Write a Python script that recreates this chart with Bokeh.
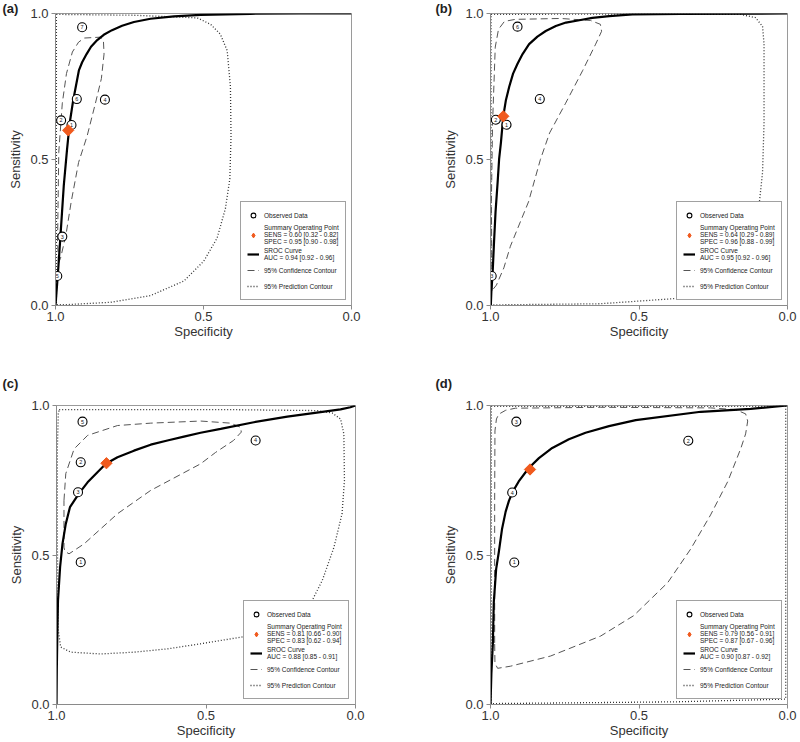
from bokeh.plotting import figure
from bokeh.models import (Range1d, FixedTicker, Legend, LegendItem,
                          ColumnDataSource, PrintfTickFormatter)
from bokeh.layouts import column, row
from bokeh.embed import file_html
from bokeh.resources import INLINE
from bokeh.core.properties import value
import math

FONT = "Liberation Sans"

# ---------------- Panel (a) ----------------
a_study = ["1", "2", "3", "4", "5", "6", "7"]
a_spec = [0.946, 0.981, 0.977, 0.833, 0.994, 0.928, 0.910]
a_sens = [0.618, 0.634, 0.236, 0.705, 0.101, 0.707, 0.953]
a_sum = (0.957, 0.600)
a_sroc_spec = [1.0, 0.992, 0.983, 0.972, 0.961, 0.952, 0.940, 0.921, 0.910, 0.895, 0.880, 0.859, 0.837, 0.809,
               0.775, 0.735, 0.679, 0.600, 0.510, 0.341, 0.172, 0.0]
a_sroc_sens = [0.0, 0.107, 0.242, 0.411, 0.535, 0.625, 0.704, 0.805, 0.833, 0.861, 0.886, 0.909, 0.927, 0.943,
               0.958, 0.971, 0.982, 0.990, 0.995, 0.999, 1.0, 1.0]
a_conf_spec = [0.990, 0.993, 0.989, 0.977, 0.963, 0.943, 0.922, 0.902, 0.848, 0.838, 0.836, 0.845, 0.865, 0.893, 0.922, 0.947, 0.965, 0.983]
a_conf_sens = [0.145, 0.220, 0.524, 0.693, 0.794, 0.868, 0.902, 0.916, 0.919, 0.905, 0.861, 0.777, 0.693, 0.581, 0.490, 0.355, 0.240, 0.162]
a_pred_spec = [0.997, 0.735, 0.521, 0.476, 0.443, 0.420, 0.409, 0.407, 0.411, 0.426, 0.454, 0.499, 0.566, 0.679, 0.814, 0.961, 0.997]
a_pred_sens = [0.997, 0.994, 0.985, 0.963, 0.929, 0.873, 0.749, 0.580, 0.434, 0.332, 0.231, 0.152, 0.084, 0.034, 0.011, 0.003, 0.003]
a_legend = ["Summary Operating Point\nSENS = 0.60 [0.32 - 0.82]\nSPEC = 0.95 [0.90 - 0.98]",
            "SROC Curve\nAUC = 0.94 [0.92 - 0.96]"]

# ---------------- Panel (b) ----------------
b_study = ["1", "2", "3", "4", "6"]
b_spec = [0.946, 0.982, 0.996, 0.834, 0.909]
b_sens = [0.619, 0.636, 0.101, 0.707, 0.955]
b_sum = (0.957, 0.648)
b_sroc_spec = [0.999, 0.997, 0.993, 0.988, 0.983, 0.976, 0.971, 0.965, 0.957, 0.948, 0.937, 0.924, 0.909, 0.892,
               0.870, 0.842, 0.814, 0.780, 0.746, 0.701, 0.657, 0.600, 0.522, 0.360, 0.0]
b_sroc_sens = [0.0, 0.050, 0.108, 0.220, 0.321, 0.422, 0.501, 0.557, 0.648, 0.704, 0.749, 0.794, 0.828, 0.861,
               0.895, 0.921, 0.940, 0.957, 0.969, 0.977, 0.985, 0.991, 0.997, 0.999, 1.0]
b_conf_spec = [0.995, 0.997, 0.993, 0.984, 0.973, 0.953, 0.916, 0.764, 0.663, 0.630, 0.626, 0.646, 0.690, 0.747, 0.801, 0.832, 0.872, 0.933, 0.955, 0.980]
b_conf_sens = [0.051, 0.355, 0.625, 0.885, 0.946, 0.973, 0.980, 0.983, 0.976, 0.963, 0.939, 0.895, 0.804, 0.693, 0.591, 0.500, 0.355, 0.203, 0.129, 0.070]
b_pred_spec = [0.998, 0.630, 0.158, 0.108, 0.084, 0.079, 0.079, 0.084, 0.098, 0.125, 0.175, 0.259, 0.360, 0.630, 0.998]
b_pred_sens = [0.997, 0.998, 0.997, 0.986, 0.956, 0.895, 0.625, 0.456, 0.321, 0.186, 0.084, 0.040, 0.025, 0.006, 0.002]
b_legend = ["Summary Operating Point\nSENS = 0.64 [0.29 - 0.89]\nSPEC = 0.96 [0.88 - 0.99]",
            "SROC Curve\nAUC = 0.95 [0.92 - 0.96]"]

# ---------------- Panel (c) ----------------
c_study = ["1", "2", "3", "4", "5"]
c_spec = [0.919, 0.919, 0.928, 0.334, 0.913]
c_sens = [0.476, 0.810, 0.710, 0.883, 0.946]
c_sum = (0.833, 0.807)
c_sroc_spec = [1.0, 0.999, 0.997, 0.995, 0.988, 0.980, 0.969, 0.955, 0.924, 0.896, 0.863, 0.835, 0.796, 0.741,
               0.685, 0.629, 0.574, 0.518, 0.451, 0.340, 0.228, 0.117, 0.050, 0.017, 0.0]
c_sroc_sens = [0.0, 0.114, 0.247, 0.348, 0.459, 0.537, 0.604, 0.660, 0.707, 0.743, 0.777, 0.805, 0.827, 0.849,
               0.869, 0.883, 0.896, 0.909, 0.922, 0.944, 0.963, 0.978, 0.987, 0.994, 1.0]
c_conf_spec = [0.975, 0.969, 0.941, 0.896, 0.796, 0.685, 0.518, 0.418, 0.384, 0.382, 0.408, 0.468, 0.518, 0.685, 0.796, 0.908, 0.958, 0.972, 0.975]
c_conf_sens = [0.682, 0.772, 0.855, 0.900, 0.933, 0.941, 0.948, 0.941, 0.927, 0.911, 0.883, 0.843, 0.805, 0.716, 0.638, 0.537, 0.504, 0.512, 0.526]
c_pred_spec = [0.991, 0.741, 0.406, 0.128, 0.078, 0.050, 0.039, 0.037, 0.045, 0.072, 0.111, 0.145, 0.206, 0.273, 0.373, 0.518, 0.629, 0.741, 0.852, 0.952, 0.986, 0.994, 0.997, 0.997, 0.994]
c_pred_sens = [0.986, 0.986, 0.986, 0.983, 0.975, 0.955, 0.905, 0.749, 0.638, 0.526, 0.415, 0.348, 0.281, 0.253, 0.227, 0.203, 0.186, 0.175, 0.169, 0.175, 0.192, 0.247, 0.526, 0.861, 0.972]
c_legend = ["Summary Operating Point\nSENS = 0.81 [0.66 - 0.90]\nSPEC = 0.83 [0.62 - 0.94]",
            "SROC Curve\nAUC = 0.88 [0.85 - 0.91]"]

# ---------------- Panel (d) ----------------
d_study = ["1", "2", "3", "4"]
d_spec = [0.920, 0.334, 0.913, 0.927]
d_sens = [0.475, 0.882, 0.946, 0.709]
d_sum = (0.867, 0.786)
d_sroc_spec = [1.0, 0.997, 0.992, 0.989, 0.981, 0.972, 0.961, 0.949, 0.938, 0.925, 0.905, 0.871, 0.837, 0.792,
               0.736, 0.680, 0.601, 0.511, 0.292, 0.124, 0.0]
d_sroc_sens = [0.0, 0.105, 0.206, 0.341, 0.453, 0.510, 0.588, 0.645, 0.681, 0.712, 0.746, 0.791, 0.824, 0.858,
               0.887, 0.909, 0.931, 0.951, 0.979, 0.989, 1.0]
d_conf_spec = [0.986, 0.986, 0.985, 0.980, 0.972, 0.949, 0.916, 0.629, 0.259, 0.174, 0.141, 0.134, 0.141, 0.157, 0.201, 0.259, 0.326, 0.403, 0.518, 0.629, 0.798, 0.933, 0.976, 0.985]
d_conf_sens = [0.206, 0.678, 0.915, 0.955, 0.971, 0.984, 0.991, 0.994, 0.992, 0.986, 0.972, 0.948, 0.905, 0.857, 0.746, 0.634, 0.520, 0.408, 0.297, 0.229, 0.162, 0.128, 0.121, 0.138]
d_pred_spec = [0.997, 0.997, 0.006, 0.006, 0.371, 0.997]
d_pred_sens = [0.003, 0.997, 0.997, 0.018, 0.009, 0.003]
d_legend = ["Summary Operating Point\nSENS = 0.79 [0.56 - 0.91]\nSPEC = 0.87 [0.67 - 0.96]",
            "SROC Curve\nAUC = 0.90 [0.87 - 0.92]"]

TICKS = [0.0, 0.5, 1.0]
DIAMOND = "#F05A1E"


def closed(v):
    return list(v) + [v[0]]


def make_panel(tag, study, spec, sens, summ, sroc_x, sroc_y, conf_x, conf_y,
               pred_x, pred_y, leg, width, height, bl, br, bt, bb,
               tag_offset, tag_standoff, tag_valign, leg_loc):
    p = figure(width=width, height=height, x_range=Range1d(1, 0), y_range=Range1d(0, 1),
               output_backend="svg", toolbar_location=None,
               min_border_left=bl, min_border_right=br, min_border_top=bt, min_border_bottom=bb)
    p.title.text = tag
    p.title.align = "left"
    p.title.offset = tag_offset
    p.title.standoff = tag_standoff
    p.title.vertical_align = tag_valign
    p.title.text_font = FONT
    p.title.text_font_size = "13px"
    p.title.text_font_style = "bold"
    p.title.text_color = "#222222"

    p.grid.visible = False
    p.outline_line_color = "#9a9a9a"
    p.background_fill_color = "white"
    p.border_fill_color = "white"
    for ax in (p.xaxis[0], p.yaxis[0]):
        ax.ticker = FixedTicker(ticks=TICKS)
        ax.formatter = PrintfTickFormatter(format="%.1f")
        ax.major_tick_in = 0
        ax.major_tick_out = 4
        ax.minor_tick_line_color = None
        ax.axis_line_color = "#8a8a8a"
        ax.major_tick_line_color = "#8a8a8a"
        ax.major_label_text_font = FONT
        ax.major_label_text_font_size = "13px"
        ax.major_label_text_color = "#333333"
        ax.axis_label_text_font = FONT
        ax.axis_label_text_font_size = "13px"
        ax.axis_label_text_font_style = "normal"
        ax.axis_label_text_color = "#333333"
        ax.major_label_standoff = 3
    p.xaxis.axis_label = "Specificity"
    p.yaxis.axis_label = "Sensitivity"
    p.xaxis.major_label_standoff = 2
    p.xaxis.axis_label_standoff = 0
    p.yaxis.axis_label_standoff = 4

    r_pred = p.line(closed(pred_x), closed(pred_y), line_color="#333333", line_width=1.3,
                    line_dash="1 2")
    r_conf = p.line(closed(conf_x), closed(conf_y), line_color="#555555", line_width=1,
                    line_dash="7 4")
    r_sroc = p.line(sroc_x, sroc_y, line_color="black", line_width=2.2)
    src = ColumnDataSource(dict(x=spec, y=sens, t=study))
    r_obs = p.scatter("x", "y", source=src, marker="circle", size=9, fill_color="white",
                      line_color="black", line_width=1.1)
    p.text("x", "y", text="t", source=src, text_font=value(FONT), text_font_size="5.5px",
           text_align="center", text_baseline="middle", text_color="#222222")
    # legend symbol (a diamond) at the summary point, covered by the main symbol
    r_sum_leg = p.scatter([summ[0]], [summ[1]], marker="diamond", size=8,
                          fill_color=DIAMOND, line_color=DIAMOND)
    p.scatter([summ[0]], [summ[1]], marker="square", angle=math.pi / 4, size=8,
              fill_color=DIAMOND, line_color=DIAMOND)

    legend = Legend(items=[
        LegendItem(label="Observed Data", renderers=[r_obs]),
        LegendItem(label=leg[0], renderers=[r_sum_leg]),
        LegendItem(label=leg[1], renderers=[r_sroc]),
        LegendItem(label="95% Confidence Contour", renderers=[r_conf]),
        LegendItem(label="95% Prediction Contour", renderers=[r_pred]),
    ], location=leg_loc)
    legend.label_text_font = FONT
    legend.label_text_font_size = "6.5px"
    legend.label_text_line_height = 1.0
    legend.label_text_color = "#222222"
    legend.label_height = 8
    legend.glyph_height = 14
    legend.glyph_width = 12
    legend.label_standoff = 5
    legend.spacing = 2
    legend.padding = 6
    legend.margin = 0
    legend.border_line_color = "#444444"
    legend.border_line_width = 1
    legend.background_fill_color = "white"
    legend.background_fill_alpha = 1.0
    p.add_layout(legend, "center")
    return p


H1 = 362
H2 = 380
pa = make_panel("(a)", a_study, a_spec, a_sens, a_sum, a_sroc_spec, a_sroc_sens,
                a_conf_spec, a_conf_sens, a_pred_spec, a_pred_sens, a_legend,
                400, H1, 55, 49, 9, 57, -53, -4, "bottom", (185, 5))
pb = make_panel("(b)", b_study, b_spec, b_sens, b_sum, b_sroc_spec, b_sroc_sens,
                b_conf_spec, b_conf_sens, b_pred_spec, b_pred_sens, b_legend,
                400, H1, 90, 13, 9, 57, -55, -4, "bottom", (186, 5))
pc = make_panel("(c)", c_study, c_spec, c_sens, c_sum, c_sroc_spec, c_sroc_sens,
                c_conf_spec, c_conf_sens, c_pred_spec, c_pred_sens, c_legend,
                400, H2, 56, 45, 43, 38, -54, 26, "top", (187, 5))
pd_ = make_panel("(d)", d_study, d_spec, d_sens, d_sum, d_sroc_spec, d_sroc_sens,
                 d_conf_spec, d_conf_sens, d_pred_spec, d_pred_sens, d_legend,
                 400, H2, 90, 13, 43, 38, -55, 26, "top", (186, 5))

layout = column(row(pa, pb, spacing=0), row(pc, pd_, spacing=0), spacing=0)

with open("out.html", "w") as f:
    f.write(file_html(layout, INLINE))
